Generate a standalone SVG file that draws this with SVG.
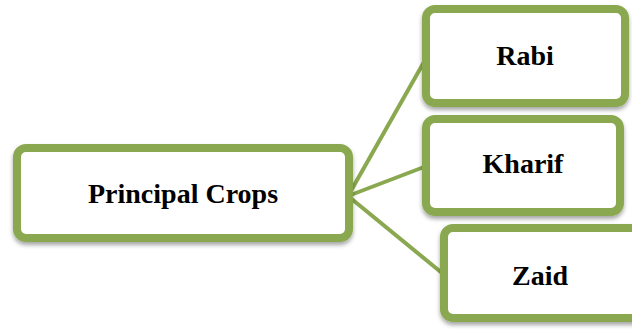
<svg xmlns="http://www.w3.org/2000/svg" width="632" height="329" viewBox="0 0 632 329">
<defs>
<filter id="sh" x="-10%" y="-10%" width="120%" height="130%">
<feDropShadow dx="0" dy="3" stdDeviation="2" flood-color="#000" flood-opacity="0.35"/>
</filter>
</defs>
<style>
.box{fill:#fff;stroke:#8aa84f;stroke-width:8;filter:url(#sh)}
.lbl{font-family:"Liberation Serif","Times New Roman",serif;font-weight:bold;font-size:28px;fill:#000;text-anchor:middle}
.con{stroke:#8aa84f;stroke-width:4;fill:none}
</style>
<g id="connectors">
<line class="con" x1="348" y1="196" x2="424" y2="62"/>
<line class="con" x1="348" y1="196" x2="424" y2="167"/>
<line class="con" x1="348" y1="196" x2="442" y2="273"/>
</g>
<g id="principal">
<rect class="box" x="17" y="148" width="332" height="90" rx="9"/>
<text class="lbl" x="183" y="203">Principal Crops</text>
</g>
<g id="rabi">
<rect class="box" x="426" y="9" width="199" height="94" rx="9"/>
<text class="lbl" x="525" y="65">Rabi</text>
</g>
<g id="kharif">
<rect class="box" x="426" y="119" width="194" height="93" rx="9"/>
<text class="lbl" x="523" y="173">Kharif</text>
</g>
<g id="zaid">
<rect class="box" x="444" y="228" width="200" height="90" rx="9"/>
<text class="lbl" x="540" y="285">Zaid</text>
</g>
</svg>
